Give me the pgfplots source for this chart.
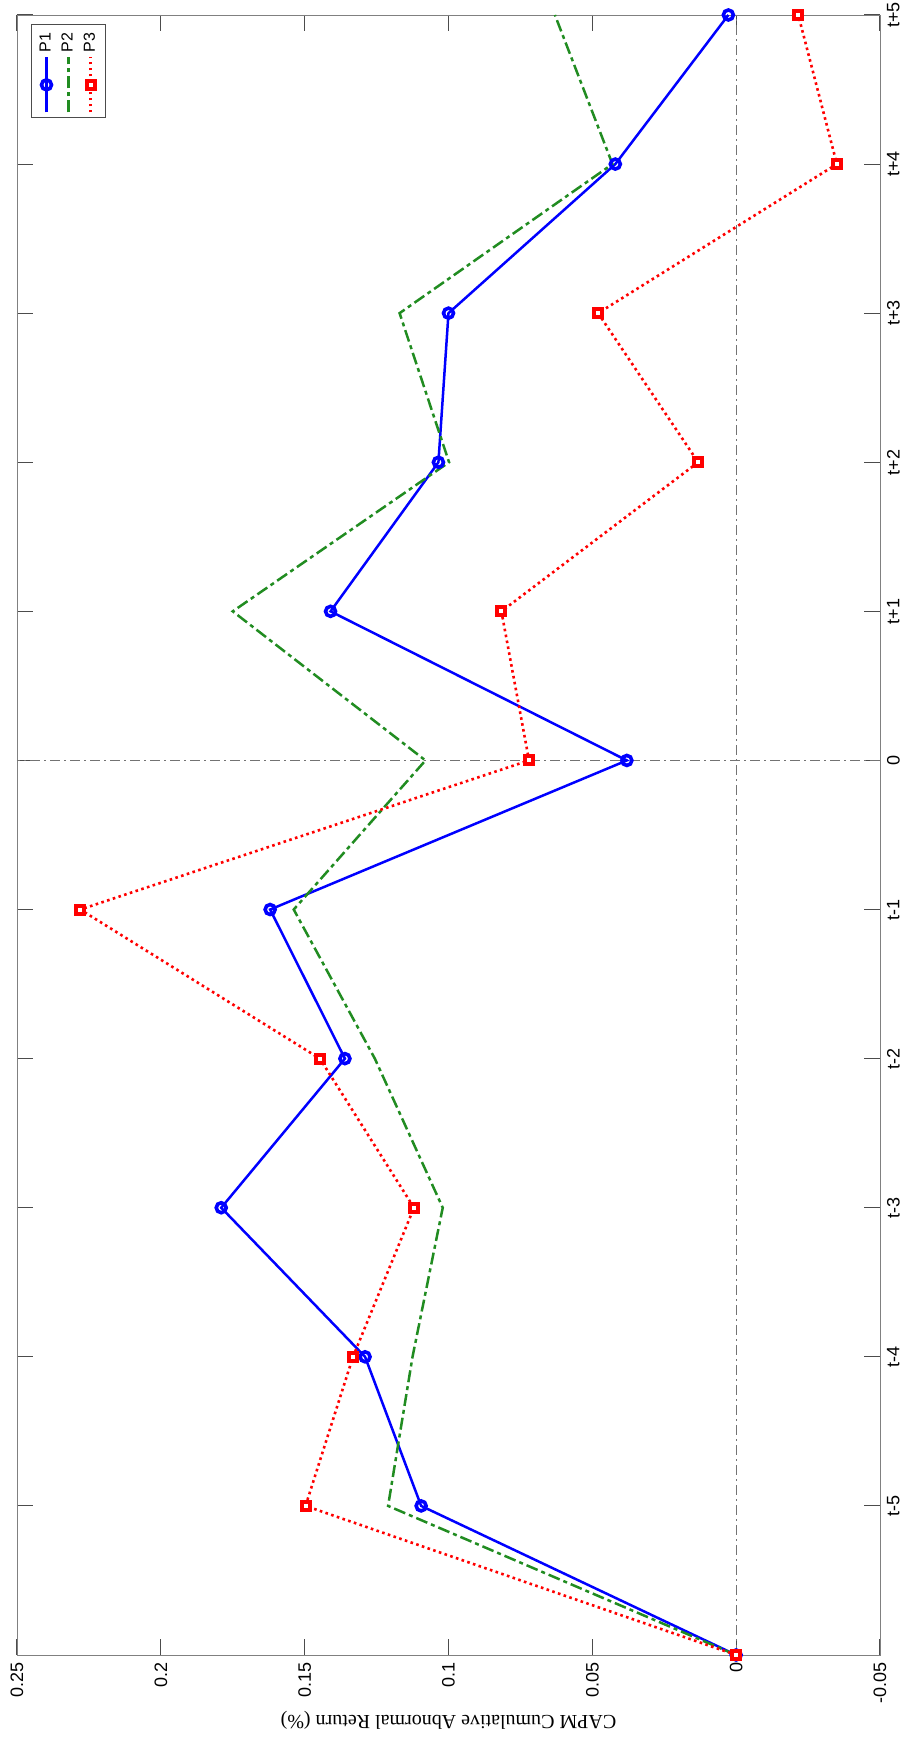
\documentclass[border=0pt]{standalone}
\usepackage{pgfplots}
\pgfplotsset{compat=1.18}
\usepackage{fontspec}
\setmainfont{Liberation Sans}
\newfontfamily\timesfont{Liberation Serif}
\definecolor{mblue}{rgb}{0,0,1}
\definecolor{mgreen}{rgb}{0.13,0.55,0.13}
\definecolor{mred}{rgb}{1,0,0}
\begin{document}
\begin{tikzpicture}
\begin{scope}[rotate=90, transform shape]
\begin{axis}[name=ax, scale only axis, width=820pt, height=431.5pt,
  xmin=0, xmax=11, ymin=-0.05, ymax=0.25,
  xtick={1,2,3,4,5,6,7,8,9,10,11},
  xticklabels={t-5,t-4,t-3,t-2,t-1,0,t+1,t+2,t+3,t+4,t+5},
  ytick={-0.05,0,0.05,0.1,0.15,0.2,0.25},
  yticklabels={-0.05,0,0.05,0.1,0.15,0.2,0.25},
  tick label style={font=\fontsize{9}{10}\selectfont},
  major tick length=8pt,
  axis line style={black!50},
  tick style={black!70, line width=0.5pt},
  ylabel={CAPM Cumulative Abnormal Return (\%)},
  ylabel style={font=\timesfont\fontsize{10}{12}\selectfont, at={(axis description cs:-0.0396,0.5)}, anchor=center},
  legend style={at={(1,1)}, anchor=north east, xshift=-4.5pt, yshift=-7pt,
    font=\fontsize{8}{9}\selectfont, draw=black!70, line width=0.5pt, inner sep=2pt},
  legend cell align=left,
  legend image code/.code={\draw[mark repeat=2,mark phase=2,#1] plot coordinates {(0pt,0pt) (13.75pt,0pt) (27.5pt,0pt)};},
]
\addplot[forget plot, black!55, line width=0.5pt, dash pattern=on 5pt off 2pt on 1pt off 2pt] coordinates {(0,0) (11,0)};
\addplot[forget plot, black!55, line width=0.5pt, dash pattern=on 5pt off 2pt on 1pt off 2pt] coordinates {(6,-0.05) (6,0.25)};
\addplot[mblue, line width=1.25pt, mark=o, mark size=2.5pt, mark options={solid, line width=1.8pt}] coordinates {
(0,0) (1,0.1095) (2,0.129) (3,0.179) (4,0.136) (5,0.162) (6,0.038) (7,0.141) (8,0.1035) (9,0.100) (10,0.042) (11,0.0027)};
\addlegendentry{P1}
\addplot[mgreen, line width=1.25pt, dash pattern=on 6pt off 2pt on 2pt off 2pt] coordinates {
(0,0) (1,0.121) (2,0.1125) (3,0.102) (4,0.1256) (5,0.1538) (6,0.108) (7,0.175) (8,0.0998) (9,0.117) (10,0.043) (11,0.063)};
\addlegendentry{P2}
\addplot[mred, line width=1.3pt, dash pattern=on 1.3pt off 1.7pt, mark=square*, mark size=2pt, mark options={solid, fill=white, draw=mred, line width=2pt}] coordinates {
(0,0) (1,0.1497) (2,0.1332) (3,0.112) (4,0.1447) (5,0.228) (6,0.072) (7,0.0816) (8,0.0132) (9,0.048) (10,-0.035) (11,-0.0216)};
\addlegendentry{P3}
\end{axis}
\end{scope}
\pgfresetboundingbox
\path ([shift={(-8.5pt,-42.5pt)}]ax.north west) rectangle ([shift={(18pt,7.5pt)}]ax.south east);
\end{tikzpicture}
\end{document}
